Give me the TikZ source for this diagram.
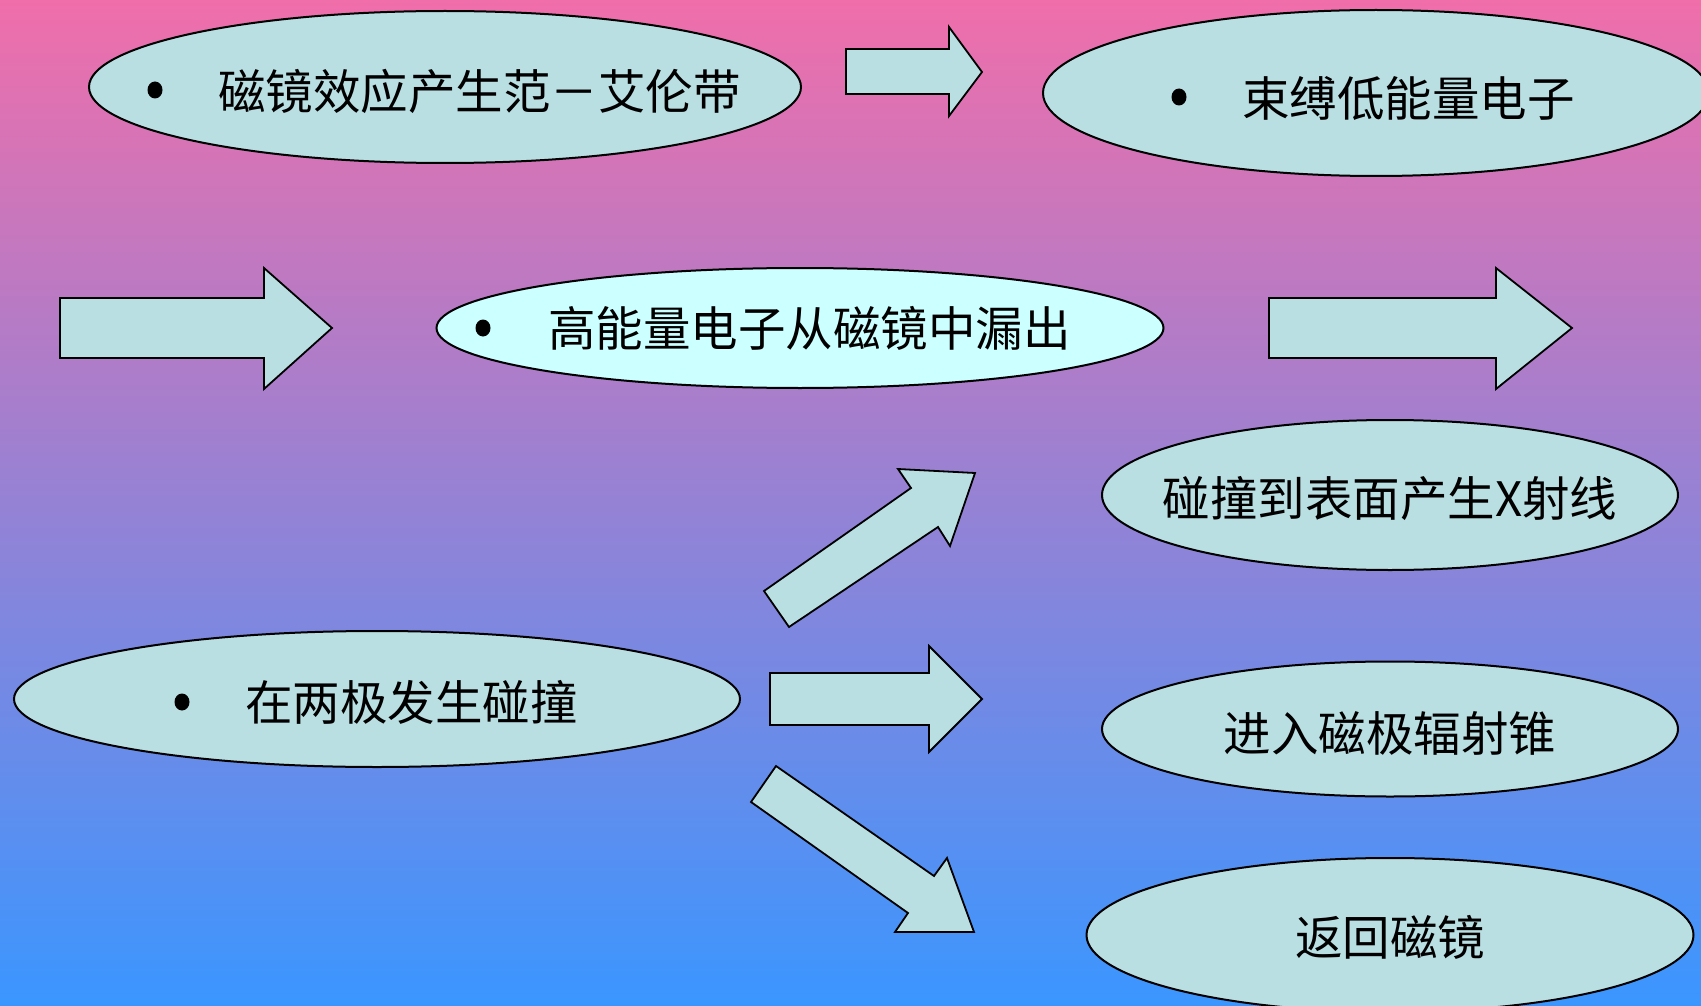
\documentclass[tikz,border=0pt]{standalone}
\usepackage{fontspec}
\usepackage{graphicx}
\usetikzlibrary{shapes.geometric}
\newfontfamily\cjk{Noto Sans CJK SC}
\definecolor{bgtop}{RGB}{240,110,170}
\definecolor{bgmid}{RGB}{166,138,227}
\definecolor{bgbot}{RGB}{58,150,255}
\definecolor{boxfill}{RGB}{185,223,227}
\definecolor{lightfill}{RGB}{204,255,255}
\tikzset{
  ell/.style={ellipse, draw=black, line width=2pt, fill=boxfill, inner sep=0pt},
  blockarrow/.style={draw=black, line width=1.8pt, fill=boxfill, line join=miter},
  lbl/.style={inner sep=0pt, font=\cjk\fontsize{47.5}{50}\selectfont, text=black},
  bulletdot/.style={fill=black},
}
\begin{document}
\begin{tikzpicture}[x=1pt, y=-1pt]
\useasboundingbox (0,0) rectangle (1701,1006);
\clip (0,0) rectangle (1701,1006);
\shade[top color=bgtop, middle color=bgmid, bottom color=bgbot] (0,0) rectangle (1701,1006);

% ellipses
\node[ell, minimum width=712pt, minimum height=152pt] (e1) at (445,87) {};
\node[ell, minimum width=666pt, minimum height=166pt] (e2) at (1376,93) {};
\node[ell, fill=lightfill, minimum width=727pt, minimum height=120pt] (e3) at (800,328) {};
\node[ell, minimum width=576pt, minimum height=150pt] (e4) at (1390,495) {};
\node[ell, minimum width=726pt, minimum height=136pt] (e5) at (377,699) {};
\node[ell, minimum width=576pt, minimum height=135pt] (e6) at (1390,729) {};
\node[ell, minimum width=607pt, minimum height=154pt] (e7) at (1390,935) {};

% bullets
\fill[bulletdot] (155,90) ellipse (7.5 and 8.5);
\fill[bulletdot] (1179,97) ellipse (7.5 and 8.5);
\fill[bulletdot] (483,328) ellipse (7.5 and 8.5);
\fill[bulletdot] (182,702) ellipse (7.5 and 8.5);

% texts
\node[lbl, anchor=west] (t1) at (218,91) {磁镜效应产生范－艾伦带};
\node[lbl, anchor=west] (t2) at (1242,98) {束缚低能量电子};
\node[lbl, anchor=west] (t3) at (548,328) {高能量电子从磁镜中漏出};
\node[lbl, anchor=west] (t5) at (245,702) {在两极发生碰撞};
\node[lbl] (t4) at (1390,498) {碰撞到表面产生X射线};
\node[lbl] (t6) at (1390,733) {进入磁极辐射锥};
\node[lbl] (t7) at (1390,937) {返回磁镜};

% block arrows
\draw[blockarrow] (846,49) -- (949,49) -- (949,27) -- (982,72) -- (949,116) -- (949,94) -- (846,94) -- cycle;
\draw[blockarrow] (60,298) -- (264,298) -- (264,268) -- (332,328) -- (264,389) -- (264,358) -- (60,358) -- cycle;
\draw[blockarrow] (1269,298) -- (1496,298) -- (1496,268) -- (1572,328) -- (1496,389) -- (1496,358) -- (1269,358) -- cycle;
\draw[blockarrow] (764,591) -- (911,488) -- (898,469) -- (975,473) -- (950,546) -- (938,527) -- (789,627) -- cycle;
\draw[blockarrow] (770,673) -- (929,673) -- (929,646) -- (982,699) -- (929,752) -- (929,725) -- (770,725) -- cycle;
\draw[blockarrow] (776,766) -- (934,876) -- (947,858) -- (974,932) -- (895,932) -- (908,913) -- (751,802) -- cycle;
\end{tikzpicture}
\end{document}
